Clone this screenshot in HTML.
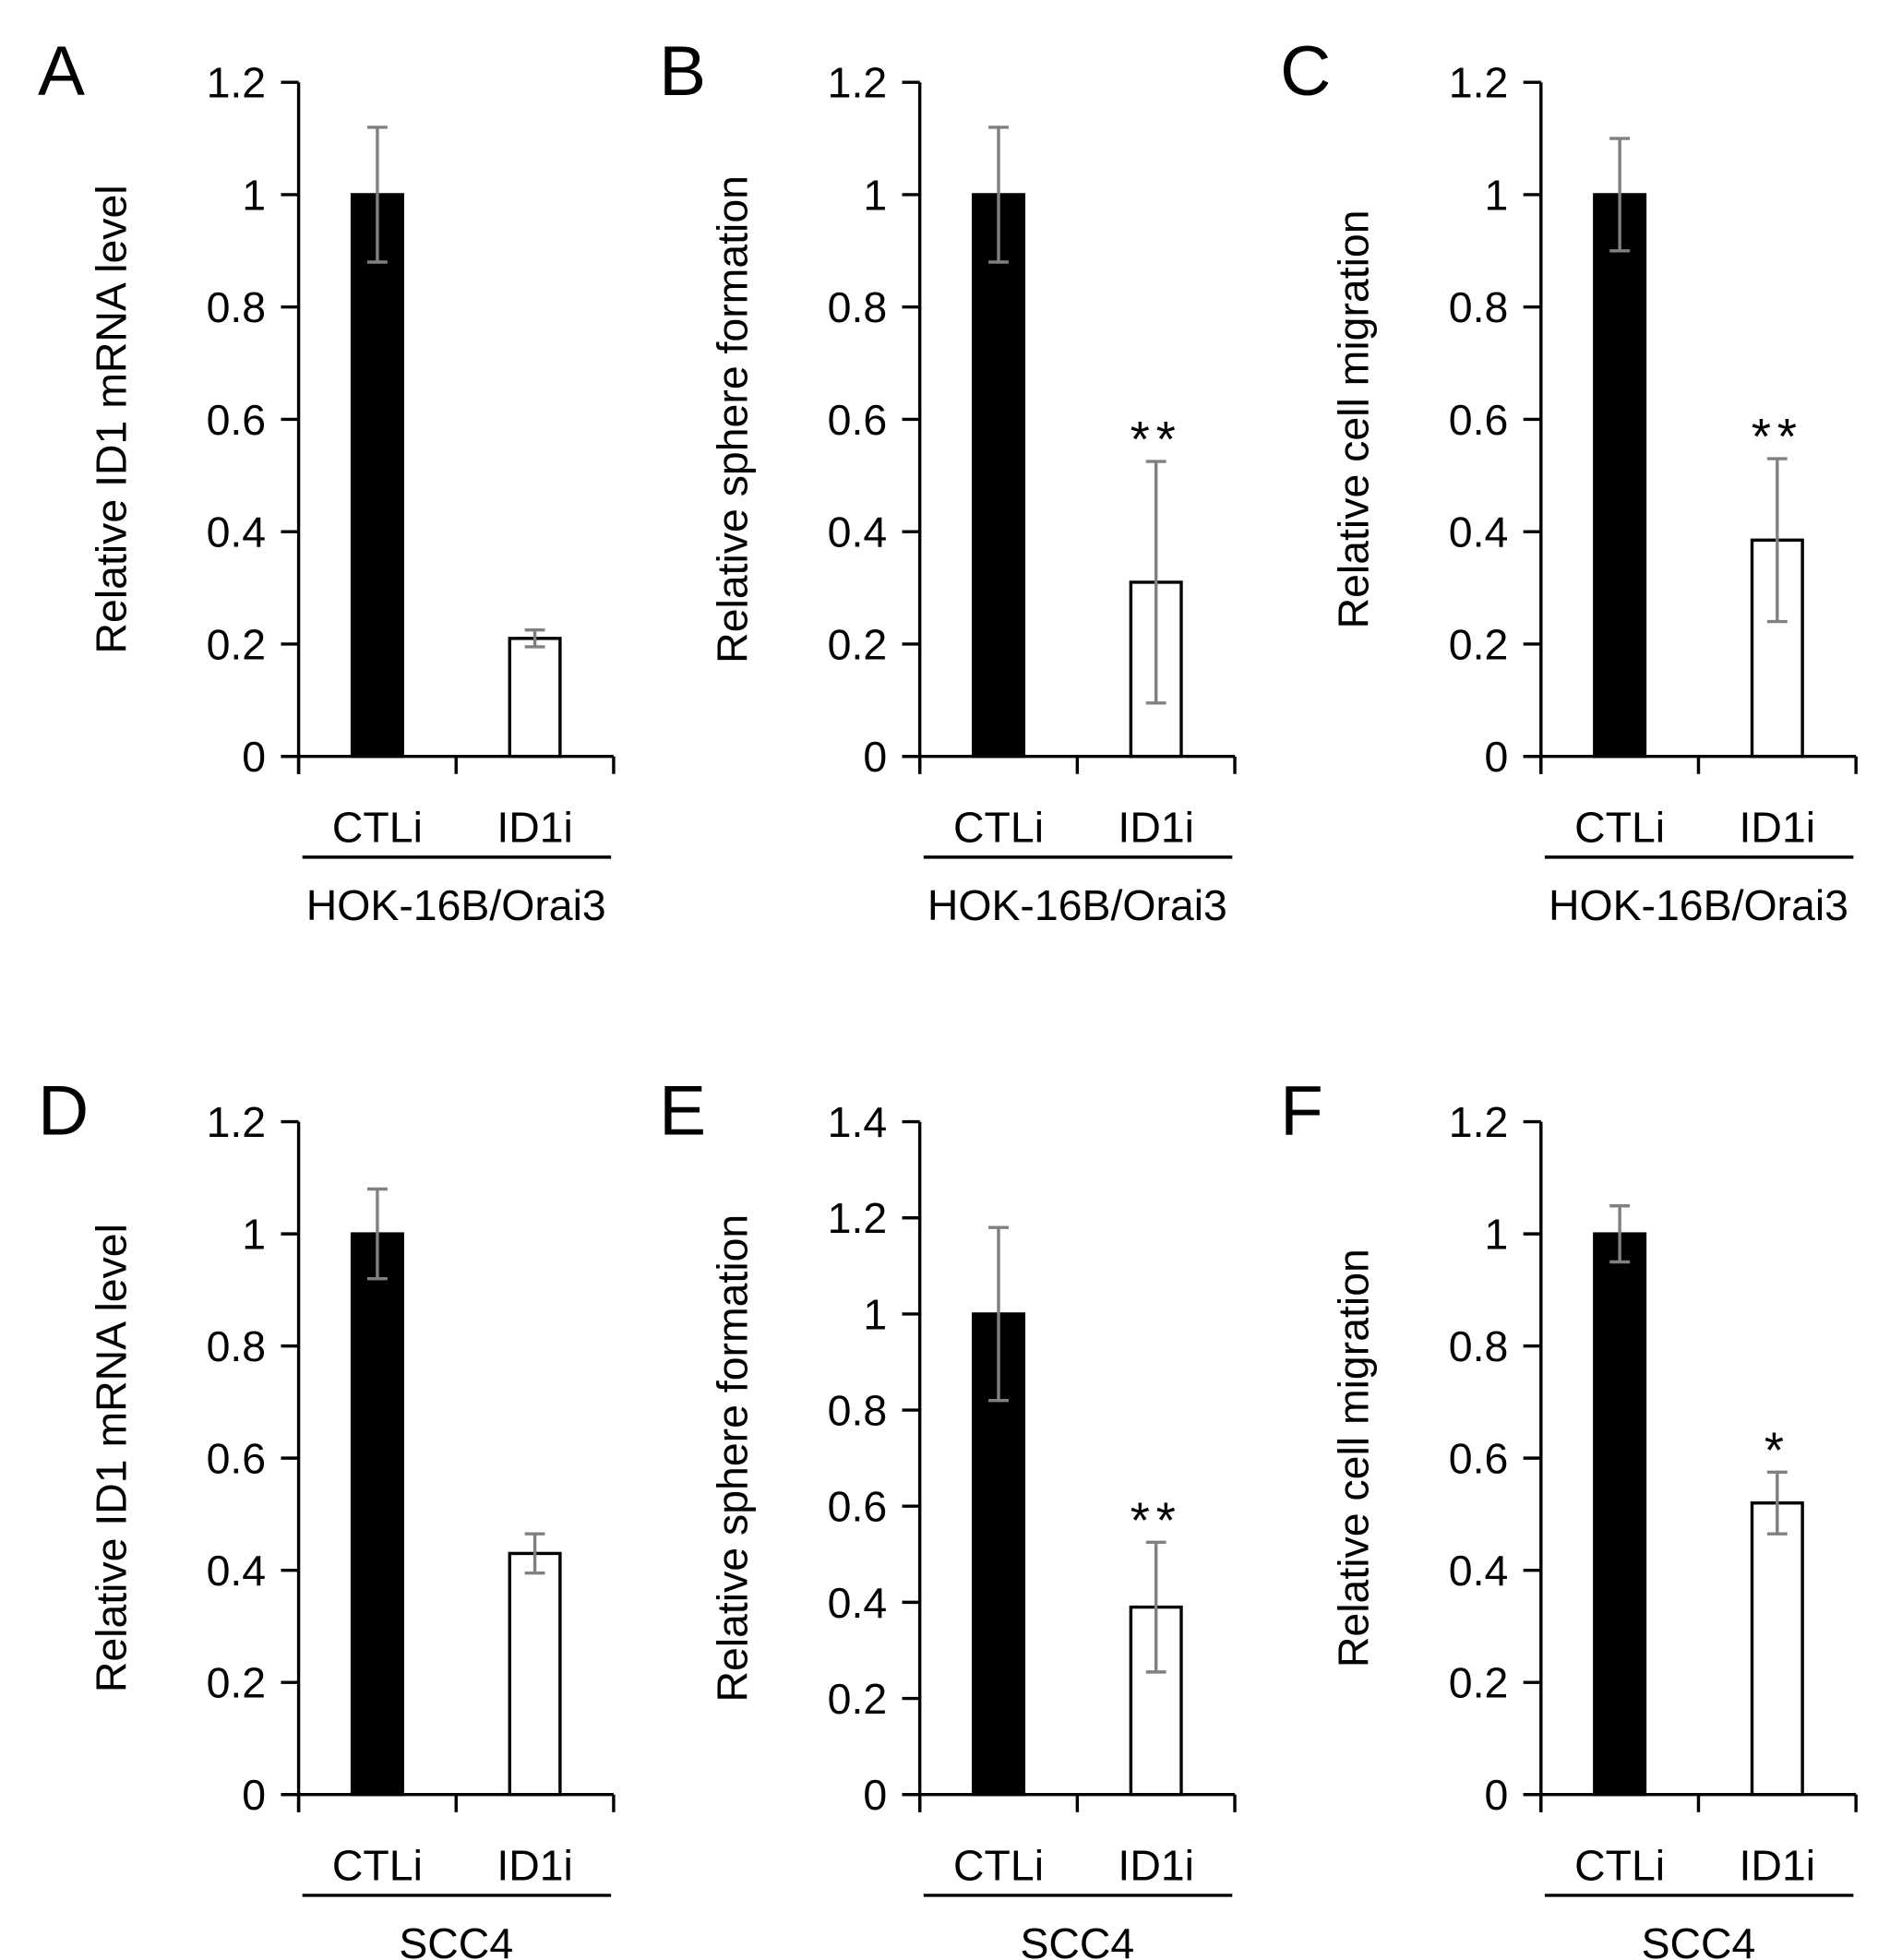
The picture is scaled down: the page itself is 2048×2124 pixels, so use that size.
<!DOCTYPE html>
<html><head><meta charset="utf-8"><style>
html,body{margin:0;padding:0;background:#fff;}
svg{display:block;font-family:"Liberation Sans",sans-serif;}
</style></head><body>
<svg id="fig" width="2048" height="2124" viewBox="0 0 1500 1555" xmlns="http://www.w3.org/2000/svg"></svg>
<script>
const panelLetters = ["A","B","C","D","E","F"];
const yTitles = ["Relative ID1 mRNA level","Relative sphere formation","Relative cell migration","Relative ID1 mRNA level","Relative sphere formation","Relative cell migration"];
const groupLabels = ["HOK-16B/Orai3","HOK-16B/Orai3","HOK-16B/Orai3","SCC4","SCC4","SCC4"];
const categories = ["CTLi","ID1i"];
const ctlValues = [1,1,1,1,1,1];
const ctlErrors = [0.12,0.12,0.1,0.08,0.18,0.05];
const id1Values = [0.21,0.31,0.385,0.43,0.39,0.52];
const id1Errors = [0.015,0.215,0.145,0.035,0.135,0.055];
const significance = ["","**","**","","**","*"];
const yMaxes = [1.2,1.2,1.2,1.2,1.4,1.2];
const yTickStep = 0.2;

const NS="http://www.w3.org/2000/svg";
const svg=document.getElementById('fig');
function mk(tag,attrs,parent,text){const e=document.createElementNS(NS,tag);for(const k in attrs)e.setAttribute(k,attrs[k]);if(text!==undefined)e.textContent=text;parent.appendChild(e);return e;}
function fmt(v){return (Math.round(v*10)/10).toString();}

for(let p=0;p<6;p++){
  const col=p%3,row=Math.floor(p/3);
  const ax=237+col*493;
  const yTop=row?890:65, yBot=row?1424:600;
  const g=mk('g',{},svg);
  
  
  const ymax=yMaxes[p];
  const ys=v=>yBot-(v/ymax)*(yBot-yTop);
  const letter=mk('text',{x:ax-207,y:yTop+10,'font-size':56},g,panelLetters[p]);
  
  
  const yax=mk('line',{x1:ax,y1:yTop,x2:ax,y2:yBot+14,stroke:'#000','stroke-width':2.5},g);
  
  
  const nT=Math.round(ymax/yTickStep);
  for(let i=0;i<=nT;i++){
    const v=i*yTickStep,y=ys(v);
    mk('line',{x1:ax-14,y1:y,x2:ax,y2:y,stroke:'#000','stroke-width':2.5},g);
    const t=mk('text',{x:ax-26,y:y+12,'font-size':34,'text-anchor':'end'},g,fmt(v));
    
    
  }
  const xax=mk('line',{x1:ax-14,y1:yBot,x2:ax+250,y2:yBot,stroke:'#000','stroke-width':2.5},g);
  
  
  [0,125,250].forEach(d=>mk('line',{x1:ax+d,y1:yBot,x2:ax+d,y2:yBot+14,stroke:'#000','stroke-width':2.5},g));
  const vals=[ctlValues[p],id1Values[p]],errs=[ctlErrors[p],id1Errors[p]];
  for(let c=0;c<2;c++){
    const cx=ax+62.5+c*125;
    const b=mk('rect',{x:cx-20,y:ys(vals[c]),width:40,height:yBot-ys(vals[c]),fill:c?'#fff':'#000',stroke:'#000','stroke-width':2.5},g);
    
    
    const y1=ys(vals[c]+errs[c]),y2=ys(vals[c]-errs[c]);
    const eb=mk('path',{d:`M${cx},${y1}V${y2}M${cx-8},${y1}H${cx+8}M${cx-8},${y2}H${cx+8}`,stroke:'#808080','stroke-width':2.5,fill:'none'},g);
    
    
    const cl=mk('text',{x:cx,y:yBot+68,'font-size':34,'text-anchor':'middle'},g,categories[c]);
    
    
    if(c===1&&significance[p]){
      const s=mk('text',{x:cx,y:y1-4,'font-size':40,'text-anchor':'middle','letter-spacing':'5'},g,significance[p]);
      
      
    }
  }
  const ul=mk('line',{x1:ax+3,y1:yBot+80,x2:ax+248,y2:yBot+80,stroke:'#000','stroke-width':2.5},g);
  
  
  const gl=mk('text',{x:ax+125,y:yBot+130,'font-size':34,'text-anchor':'middle'},g,groupLabels[p]);
  
  
  const tx=ax-137,ty=(yTop+yBot)/2;
  const yt=mk('text',{x:tx,y:ty,'font-size':34,'text-anchor':'middle',transform:`rotate(-90 ${tx} ${ty})`},g,yTitles[p]);
  
  
}
</script>
</body></html>
